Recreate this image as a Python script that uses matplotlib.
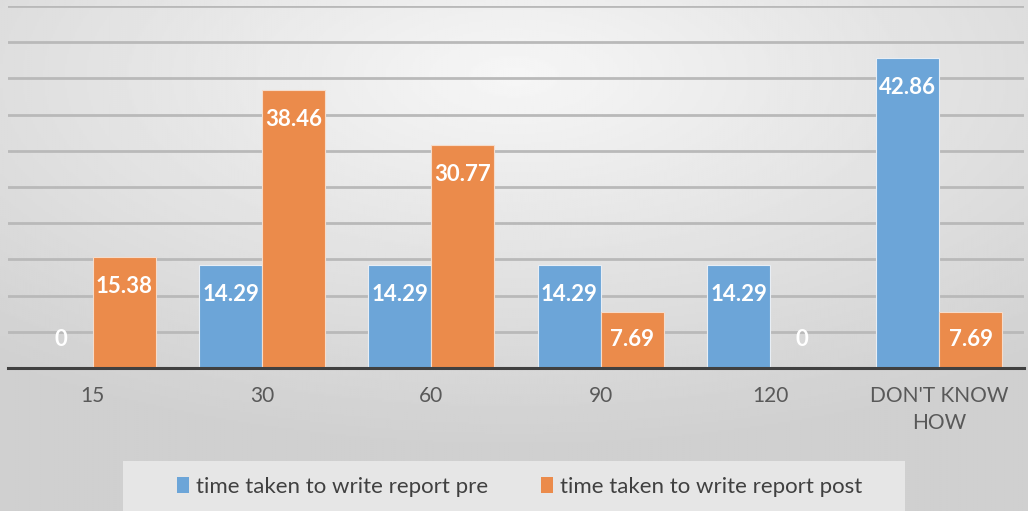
import numpy as np
import matplotlib
matplotlib.use('Agg')
import matplotlib.pyplot as plt
from matplotlib.patches import Rectangle, Patch

plt.rcParams['font.family'] = ['Lato', 'DejaVu Sans']

categories = ['15', '30', '60', '90', '120', "DON'T KNOW\nHOW"]
pre = [0, 14.29, 14.29, 14.29, 14.29, 42.86]
post = [15.38, 38.46, 30.77, 7.69, 0, 7.69]
labels = ['time taken to write report pre', 'time taken to write report post']

blue = '#6ca5d8'
orange = '#eb8b4b'

fig = plt.figure(figsize=(10.28, 5.11), dpi=100)

# gradient background
bg = fig.add_axes([0, 0, 1, 1], zorder=-2)
yy, xx = np.mgrid[0:1:256j, 0:1:512j]
r = np.sqrt(((xx - 0.5) * 1.0) ** 2 + ((yy - 0.15) * 1.1) ** 2)
shade = 0.965 - 0.15 * np.clip(r / 0.8, 0, 1)
bg.imshow(shade, cmap='gray', vmin=0, vmax=1, aspect='auto', extent=[0, 1, 1, 0])
bg.axis('off')

# legend panel
bg.add_patch(Rectangle((123 / 1028, 461 / 511), 782 / 1028, 50 / 511,
                       facecolor='#e6e6e6', edgecolor='none', zorder=3))

ax = fig.add_axes([8 / 1028, 143 / 511, 1016 / 1028, 362 / 511])
ax.set_facecolor('none')
x = np.arange(len(categories))
w = 0.372
ax.bar(x - w / 2, pre, w, color=blue, edgecolor='#e8eef5', linewidth=0.8, zorder=3)
ax.bar(x + w / 2, post, w, color=orange, edgecolor='#f5dccb', linewidth=0.8, zorder=3)

for i in range(len(categories)):
    for xs, v in ((x[i] - w / 2, pre[i]), (x[i] + w / 2, post[i])):
        ypos = max(v - 4.1, 4.0)
        ax.text(xs, ypos, f'{v:g}' if v == 0 else f'{v:.2f}', ha='center', va='center',
                color='white', fontsize=16, fontweight='bold', zorder=4)

ax.set_ylim(0, 50)
ax.set_xlim(-0.5, len(categories) - 0.5)
for g in np.arange(5, 51, 5):
    ax.axhline(g, color='#b9b9b9', lw=2.0, zorder=1)
ax.set_yticks([])
for s in ['left', 'right', 'top']:
    ax.spines[s].set_visible(False)
ax.spines['bottom'].set_color('#404040')
ax.spines['bottom'].set_linewidth(2.2)
ax.spines['bottom'].set_zorder(5)
ax.set_xticks(x)
ax.set_xticklabels(categories, fontsize=15, color='#595959', linespacing=1.45)
ax.tick_params(axis='x', length=0, pad=13)

handles = [Patch(facecolor=blue), Patch(facecolor=orange)]
fig.legend(handles, labels, loc='center', bbox_to_anchor=(519.5 / 1028, 24 / 511), ncol=2,
           frameon=False, fontsize=16, handlelength=0.55, handleheight=0.75,
           handletextpad=0.3, columnspacing=2.4, labelcolor='#404040')

fig.savefig('out.png', dpi=100)
